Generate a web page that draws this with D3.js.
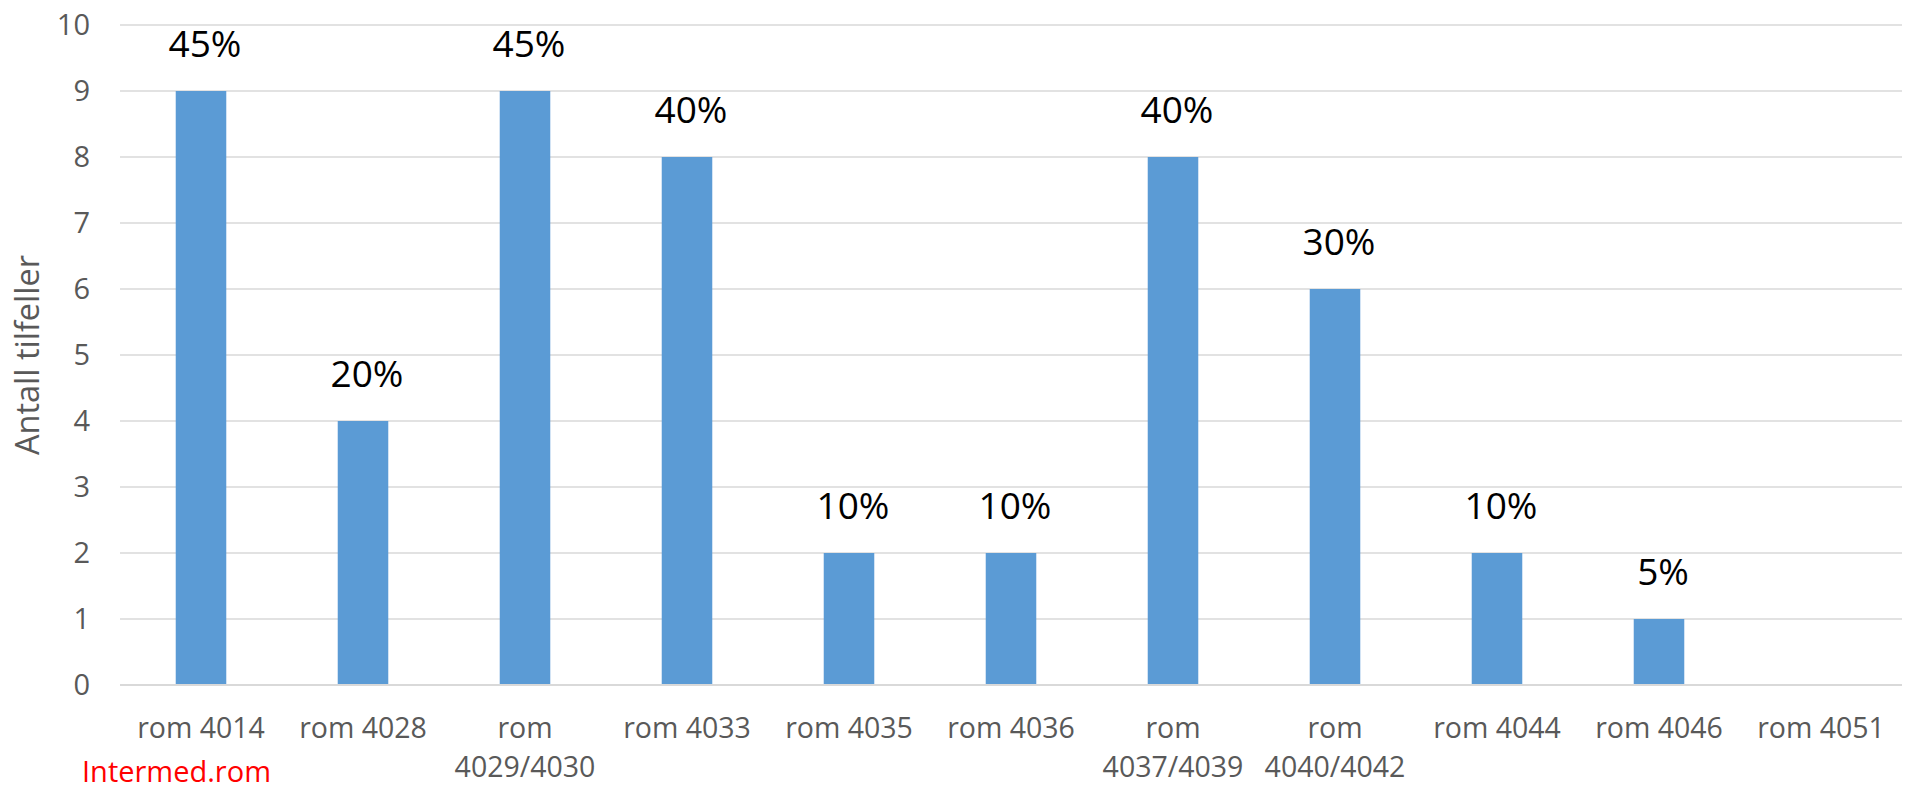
<!DOCTYPE html>
<html>
<head>
<meta charset="utf-8">
<script src="https://cdn.jsdelivr.net/npm/d3@7"></script>
<style>
  html, body { margin: 0; padding: 0; background: #fff; }
  svg { display: block; font-family: "Open Sans", sans-serif; }
</style>
</head>
<body>
<svg id="chart" width="1910" height="790"></svg>
<script>
const categories = ["rom 4014", "rom 4028", "rom 4029/4030", "rom 4033", "rom 4035", "rom 4036",
                    "rom 4037/4039", "rom 4040/4042", "rom 4044", "rom 4046", "rom 4051"];
const counts = [9, 4, 9, 8, 2, 2, 8, 6, 2, 1, 0];
const pctLabels = ["45%", "20%", "45%", "40%", "10%", "10%", "40%", "30%", "10%", "5%", ""];
const yTicks = [0, 1, 2, 3, 4, 5, 6, 7, 8, 9, 10];
const yTitle = "Antall tilfeller";
const footnote = "Intermed.rom";

const svg = d3.select("#chart");
const m = { left: 120, right: 8, top: 25, bottom: 105 };
const W = 1910, H = 790;

const x = d3.scaleBand().domain(categories).range([m.left, W - m.right]).paddingInner(0.688).paddingOuter(0.344);
const y = d3.scaleLinear().domain([0, 10]).range([H - m.bottom, m.top]);

// gridlines
svg.append("g").selectAll("line").data(yTicks.filter(d => d !== 0)).join("line")
  .attr("x1", m.left).attr("x2", W - m.right)
  .attr("y1", d => y(d)).attr("y2", d => y(d))
  .attr("stroke", "#d9d9d9").attr("stroke-width", 1.3);

// y axis labels
const yAxis = d3.axisLeft(y).tickValues(yTicks).tickSize(0).tickPadding(30).tickFormat(d3.format("d"));
const gy = svg.append("g").attr("transform", `translate(${m.left},0)`).call(yAxis);
gy.select(".domain").remove();
gy.selectAll("text").attr("fill", "#595959").attr("font-size", 29).attr("font-family", "Open Sans");

// bars
svg.append("g").selectAll("rect").data(counts).join("rect")
  .attr("x", (d, i) => x(categories[i]))
  .attr("y", d => y(d))
  .attr("width", x.bandwidth())
  .attr("height", d => y(0) - y(d))
  .attr("fill", "#5b9bd5");

// zero axis line
svg.append("line")
  .attr("x1", m.left).attr("x2", W - m.right)
  .attr("y1", y(0)).attr("y2", y(0))
  .attr("stroke", "#d9d9d9").attr("stroke-width", 2);

// x axis labels (wrapped)
const xAxis = d3.axisBottom(x).tickSize(0).tickPadding(0);
const gx = svg.append("g").attr("transform", `translate(0,${y(0)})`).call(xAxis);
gx.select(".domain").remove();
gx.selectAll("text")
  .attr("fill", "#595959").attr("font-size", 28.5).attr("font-family", "Open Sans")
  .attr("dy", null).attr("y", 53)
  .each(function(d) {
    const t = d3.select(this);
    const w = this.getComputedTextLength();
    if (w > x.step()) {
      const parts = d.split(" ");
      t.text(null);
      parts.forEach((p, k) => {
        t.append("tspan").attr("x", 0).attr("y", 53 + k * 39).text(p);
      });
    }
  });

// data labels
svg.append("g").selectAll("text").data(counts).join("text")
  .attr("x", (d, i) => x(categories[i]) + x.bandwidth() / 2 + 4)
  .attr("y", d => y(d) - 34)
  .attr("text-anchor", "middle")
  .attr("font-size", 37)
  .attr("fill", "#000")
  .text((d, i) => pctLabels[i]);

// y title
svg.append("text")
  .attr("transform", `translate(39,${(y(0) + y(10)) / 2}) rotate(-90)`)
  .attr("text-anchor", "middle")
  .attr("font-size", 32.5)
  .attr("fill", "#595959")
  .text(yTitle);

// footnote
svg.append("text")
  .attr("x", 82).attr("y", 782)
  .attr("font-size", 29)
  .attr("fill", "#ff0000")
  .text(footnote);
</script>
</body>
</html>
